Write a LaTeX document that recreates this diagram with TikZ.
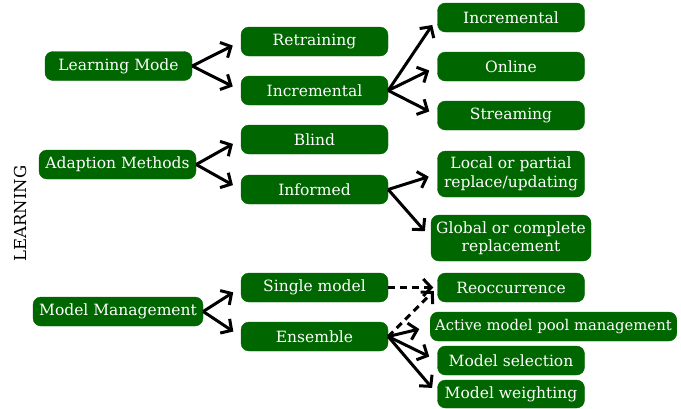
\documentclass[tikz,border=0pt]{standalone}
\usepackage{fontspec}
\setmainfont{DejaVu Serif}
\usetikzlibrary{arrows.meta}
\definecolor{boxgreen}{RGB}{0,102,0}
\begin{document}
\begin{tikzpicture}[x=1pt,y=-1pt,
  box/.style={draw=boxgreen,fill=boxgreen,text=white,rounded corners=8pt,
    minimum width=147pt,minimum height=29pt,inner sep=3pt,align=center,
    font=\fontsize{15.5}{18.5}\selectfont},
  arr/.style={line width=3pt,-{Straight Barb[length=8pt,width=17pt,line width=3pt]},shorten >=9pt},
  darr/.style={arr,dash pattern=on 7pt off 5pt}]
\useasboundingbox (0,0) rectangle (681,408);
\clip (0,0) rectangle (681,408);
\node[rotate=90,font=\fontsize{16.5}{18}\selectfont] (learn) at (20,213.5) {LEARNING};
% level 1
\node[box,minimum width=147pt] (lm) at (118.5,66) {Learning Mode};
\node[box,minimum width=157pt] (am) at (117.5,164.5) {Adaption Methods};
\node[box,minimum width=170pt] (mm) at (118,311.5) {Model Management};
% level 2
\node[box] (ret) at (314.5,41.5) {Retraining};
\node[box] (inc) at (314.5,90.5) {Incremental};
\node[box] (bli) at (314.5,139.5) {Blind};
\node[box] (inf) at (314.5,189.5) {Informed};
\node[box] (sin) at (314.5,287.5) {Single model};
\node[box] (ens) at (314.5,336.5) {Ensemble};
% level 3
\node[box] (inc2) at (511,17.5) {Incremental};
\node[box] (onl) at (511,66.5) {Online};
\node[box] (str) at (511,115.5) {Streaming};
\node[box,minimum height=46pt] (loc) at (511,174) {Local or partial\\replace/updating};
\node[box,minimum width=160pt,minimum height=46pt] (glo) at (511,238) {Global or complete\\replacement};
\node[box] (reo) at (511,287.5) {Reoccurrence};
\node[box,anchor=west,inner xsep=5pt,font=\fontsize{14.8}{18}\selectfont] (act) at (430,326.5) {Active model pool management};
\node[box] (sel) at (511,360.5) {Model selection};
\node[box,minimum height=28pt] (wei) at (511,394) {Model weighting};
% connectors
\draw[arr] (lm.east) -- (ret.west);
\draw[arr] (lm.east) -- (inc.west);
\draw[arr] (inc.east) -- (inc2.west);
\draw[arr] (inc.east) -- (onl.west);
\draw[arr] (inc.east) -- (str.west);
\draw[arr] (am.east) -- (bli.west);
\draw[arr] (am.east) -- (inf.west);
\draw[arr] (inf.east) -- (loc.west);
\draw[arr] (inf.east) -- (glo.west);
\draw[arr] (mm.east) -- (sin.west);
\draw[arr] (mm.east) -- (ens.west);
\draw[darr,shorten >=4pt] (sin.east) -- (reo.west);
\draw[darr,shorten >=5pt] (ens.east) -- (reo.west);
\draw[arr,shorten >=11pt] (ens.east) -- (act.west);
\draw[arr] (ens.east) -- (sel.west);
\draw[arr,shorten >=8pt] (ens.east) -- (wei.west);
\end{tikzpicture}
\end{document}
